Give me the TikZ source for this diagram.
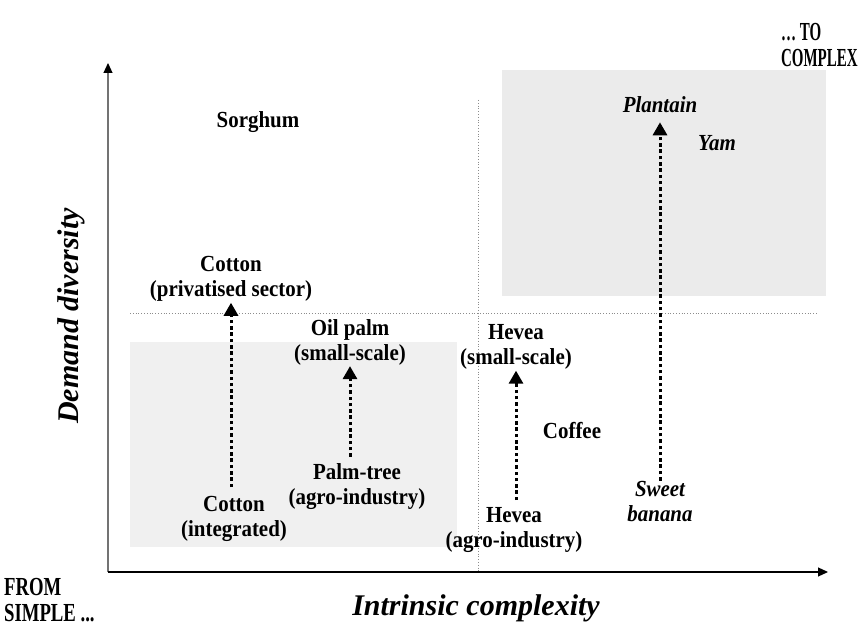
\documentclass[tikz,border=0pt]{standalone}
\usepackage{fontspec}
\setmainfont{Liberation Serif}
\usetikzlibrary{arrows.meta}
\begin{document}
\begin{tikzpicture}[x=1pt,y=-1pt,
  lbl/.style={font=\fontsize{23}{25}\selectfont\bfseries, align=center, inner sep=1pt, xscale=0.91},
  ilbl/.style={lbl, font=\fontsize{23}{25}\selectfont\bfseries\itshape},
  axlbl/.style={font=\fontsize{30}{34}\selectfont\bfseries\itshape, inner sep=0pt},
  corner/.style={font=\fontsize{26}{26}\selectfont\bfseries, align=left, inner sep=0pt, anchor=west, xscale=0.72},
  shadelo/.style={fill=black!6, draw=none},
  shadehi/.style={fill=black!8, draw=none},
  guide/.style={draw=black!45, line width=0.8pt, dotted},
  axis/.style={line width=1.1pt, -{Triangle[width=9pt,length=10pt,color=black]}},
  dotarrow/.style={line width=3pt, dash pattern=on 3.5pt off 2.8pt, -{Triangle[width=14pt,length=13pt]}}
]
\useasboundingbox (0,0) rectangle (860,628);
% shaded areas
\fill[shadelo] (130,342) rectangle (457,547);
\fill[shadehi] (502,70) rectangle (826,296);
% guide lines
\draw[guide] (478,100) -- (478,572);
\draw[guide] (130,313) -- (818,313);
% axes
\coordinate (O) at (108,572);
\coordinate (ytip) at (108,63);
\coordinate (xtip) at (828,572);
\draw[axis, draw=black!55] (O) -- (ytip);
\draw[axis] (O) -- (xtip);
% labels
\node[corner, xscale=0.8] (tocomplex) at (781,45) {\ldots\ TO\\COMPLEX};
\node[corner] (fromsimple) at (4,600) {FROM\\SIMPLE ...};
\node[axlbl] (xlab) at (476,608) {Intrinsic complexity};
\node[axlbl, rotate=90] (ylab) at (71,316) {Demand diversity};
\node[lbl] (sorghum) at (258,122) {Sorghum};
\node[lbl] (cotpriv) at (231,279) {Cotton\\(privatised sector)};
\node[lbl] (oilpalm) at (350,342) {Oil palm\\(small-scale)};
\node[lbl] (palmtree) at (357,487) {Palm-tree\\(agro-industry)};
\node[lbl] (cotint) at (234,519) {Cotton\\(integrated)};
\node[lbl] (heveasmall) at (516,347) {Hevea\\(small-scale)};
\node[lbl] (coffee) at (572,431) {Coffee};
\node[lbl] (heveaagro) at (514,530) {Hevea\\(agro-industry)};
\node[ilbl] (banana) at (660,502) {Sweet\\banana};
\node[ilbl] (plantain) at (660,105) {Plantain};
\node[ilbl] (yam) at (717,143) {Yam};
% arrows
\draw[dotarrow, shorten <=8pt] (cotint.north -| cotpriv.south) -- (cotpriv.south);
\draw[dotarrow, shorten <=6pt] (palmtree.north -| oilpalm.south) -- (oilpalm.south);
\draw[dotarrow, shorten <=6pt] (heveaagro.north -| heveasmall.south) -- (heveasmall.south);
\draw[dotarrow, shorten >=8pt] (banana.north) -- (plantain.south);
\end{tikzpicture}
\end{document}
